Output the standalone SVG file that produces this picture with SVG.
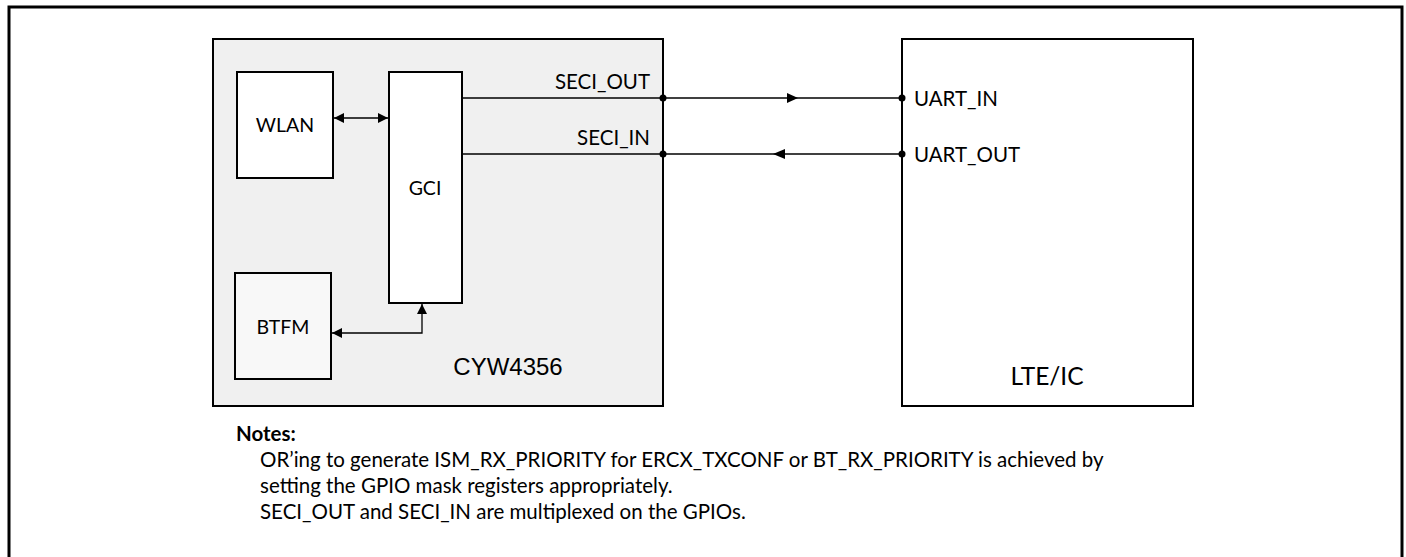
<svg xmlns="http://www.w3.org/2000/svg" width="1406" height="557" viewBox="0 0 1406 557">
<style>
.box{stroke:#000;stroke-width:2}
.ln{stroke:#000;stroke-width:1.3;fill:none}
.t{font-family:Lato,"Open Sans","Liberation Sans",sans-serif;fill:#000}
.lbl{font-size:20.5px}
.blk{font-size:19.5px}
.note{font-size:20.5px}
.a{font-family:"Liberation Sans",Arial,sans-serif;fill:#000}
</style>
<defs>
<marker id="ah" viewBox="0 0 10 10" refX="10" refY="5" markerWidth="10" markerHeight="10" markerUnits="userSpaceOnUse" orient="auto-start-reverse">
<path d="M0,0 L10,5 L0,10 z" fill="#000"/>
</marker>
</defs>
<rect x="9" y="7" width="1393" height="560" fill="#fff" stroke="#000" stroke-width="3"/>
<g id="cyw4356">
<rect class="box" x="213" y="39" width="450" height="367" fill="#f0f0f0"/>
<text class="a" x="508" y="375" font-size="24" text-anchor="middle">CYW4356</text>
</g>
<g id="wlan">
<rect class="box" x="237" y="72" width="96" height="106" fill="#fff"/>
<text class="t blk" x="285" y="132" text-anchor="middle">WLAN</text>
</g>
<g id="gci">
<rect class="box" x="389" y="72" width="73" height="231" fill="#fff"/>
<text class="t blk" x="425" y="195" text-anchor="middle">GCI</text>
</g>
<g id="btfm">
<rect class="box" x="235" y="273" width="96" height="106" fill="#f8f8f8"/>
<text class="t blk" x="283" y="334" text-anchor="middle">BTFM</text>
</g>
<g id="lte">
<rect class="box" x="902" y="39" width="291" height="367" fill="#fff"/>
<text class="t" x="1047" y="385" font-size="24.5" text-anchor="middle">LTE/IC</text>
<text class="t lbl" x="914" y="106">UART_IN</text>
<text class="t lbl" x="914" y="162">UART_OUT</text>
</g>
<g id="connectors">
<line class="ln" x1="334" y1="118" x2="388" y2="118" marker-start="url(#ah)" marker-end="url(#ah)"/>
<path class="ln" d="M332,333 H422 V304" marker-start="url(#ah)" marker-end="url(#ah)"/>
<line class="ln" x1="462" y1="98" x2="902" y2="98"/>
<line class="ln" x1="462" y1="154" x2="902" y2="154"/>
<path d="M787,93 L798,98 L787,103 z" fill="#000"/>
<path d="M785,149 L773,154 L785,159 z" fill="#000"/>
<circle cx="663" cy="98" r="3.5" fill="#000"/>
<circle cx="663" cy="154" r="3.5" fill="#000"/>
<circle cx="902" cy="98" r="3.5" fill="#000"/>
<circle cx="902" cy="154" r="3.5" fill="#000"/>
<text class="t lbl" x="650" y="89" text-anchor="end">SECI_OUT</text>
<text class="t lbl" x="650" y="145" text-anchor="end">SECI_IN</text>
</g>
<g id="notes">
<text class="t note" x="236" y="441" font-weight="bold">Notes:</text>
<text class="t note" x="260" y="467">OR’ing to generate ISM_RX_PRIORITY for ERCX_TXCONF or BT_RX_PRIORITY is achieved by</text>
<text class="t note" x="260" y="493">setting the GPIO mask registers appropriately.</text>
<text class="t note" x="260" y="519">SECI_OUT and SECI_IN are multiplexed on the GPIOs.</text>
</g>
</svg>
